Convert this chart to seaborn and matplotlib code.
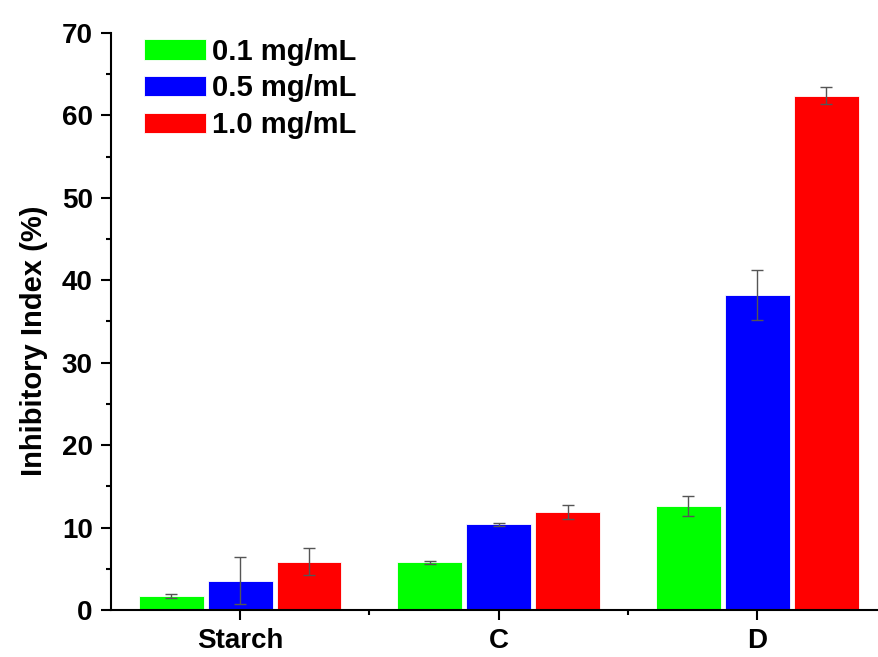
import pandas as pd
import numpy as np
import matplotlib
matplotlib.use('Agg')
import matplotlib.pyplot as plt
import seaborn as sns
from matplotlib.ticker import MultipleLocator, FixedLocator

# Data
samples = ['Starch', 'C', 'D']
concentrations = ['0.1 mg/mL', '0.5 mg/mL', '1.0 mg/mL']
mean_01 = [1.7, 5.8, 12.6]
mean_05 = [3.55, 10.4, 38.2]
mean_10 = [5.85, 11.9, 62.4]
err_01 = [0.3, 0.2, 1.2]
err_05 = [2.85, 0.2, 3.0]
err_10 = [1.65, 0.8, 1.0]
colors = ['#00FF00', '#0000FF', '#FF0000']

# Long table for seaborn
rows = []
for conc, means, errs in zip(concentrations, [mean_01, mean_05, mean_10], [err_01, err_05, err_10]):
    for s, m, e in zip(samples, means, errs):
        rows.append({'sample': s, 'conc': conc, 'value': m, 'err': e})
df = pd.DataFrame(rows)

sns.set_style('ticks')
plt.rcParams['font.family'] = ['Liberation Sans', 'DejaVu Sans']
plt.rcParams['font.weight'] = 'bold'
plt.rcParams['text.color'] = 'black'
plt.rcParams['axes.labelcolor'] = 'black'
plt.rcParams['xtick.labelcolor'] = 'black'
plt.rcParams['ytick.labelcolor'] = 'black'

fig = plt.figure(figsize=(8.79, 6.57), dpi=100)
ax = fig.add_axes([0.126, 0.0715, 0.874, 0.8785])

sns.barplot(data=df, x='sample', y='value', hue='conc', order=samples,
            hue_order=concentrations, palette=colors, errorbar=None,
            width=0.8, gap=0.06, edgecolor='white', linewidth=0.6,
            saturation=1, ax=ax)

# Error bars from the drawn bars
for container, conc in zip(ax.containers, concentrations):
    sub = df[df['conc'] == conc].set_index('sample').loc[samples]
    xs = [p.get_x() + p.get_width() / 2 for p in container.patches]
    ax.errorbar(xs, sub['value'], yerr=sub['err'], fmt='none',
                ecolor='#555555', elinewidth=1, capsize=4, capthick=1)

ax.set_xlim(-0.5, 2.47)
ax.set_ylim(0, 70)
ax.yaxis.set_major_locator(MultipleLocator(10))
ax.yaxis.set_minor_locator(MultipleLocator(5))
ax.xaxis.set_minor_locator(FixedLocator([0.5, 1.5]))

sns.despine(ax=ax)
for sp in ['left', 'bottom']:
    ax.spines[sp].set_linewidth(1.5)
    ax.spines[sp].set_color('black')

ax.tick_params(axis='both', which='major', direction='out', length=7, width=1.5,
               labelsize=20, color='black', labelcolor='black', pad=6)
ax.tick_params(axis='both', which='minor', direction='out', length=3.6, width=1.5,
               color='black')
for lbl in ax.get_xticklabels() + ax.get_yticklabels():
    lbl.set_fontweight('bold')

ax.set_xlabel('')
ax.set_ylabel('Inhibitory Index (%)', fontsize=21, fontweight='bold', color='black')
ax.yaxis.set_label_coords(-0.082, 0.466)

ax.legend(loc='upper left', bbox_to_anchor=(0.009, 1.037), frameon=False,
          prop={'size': 21, 'weight': 'bold'}, handlelength=2.12,
          handleheight=0.7, labelspacing=0.3, handletextpad=0.2)

fig.savefig('out.png', dpi=100)
